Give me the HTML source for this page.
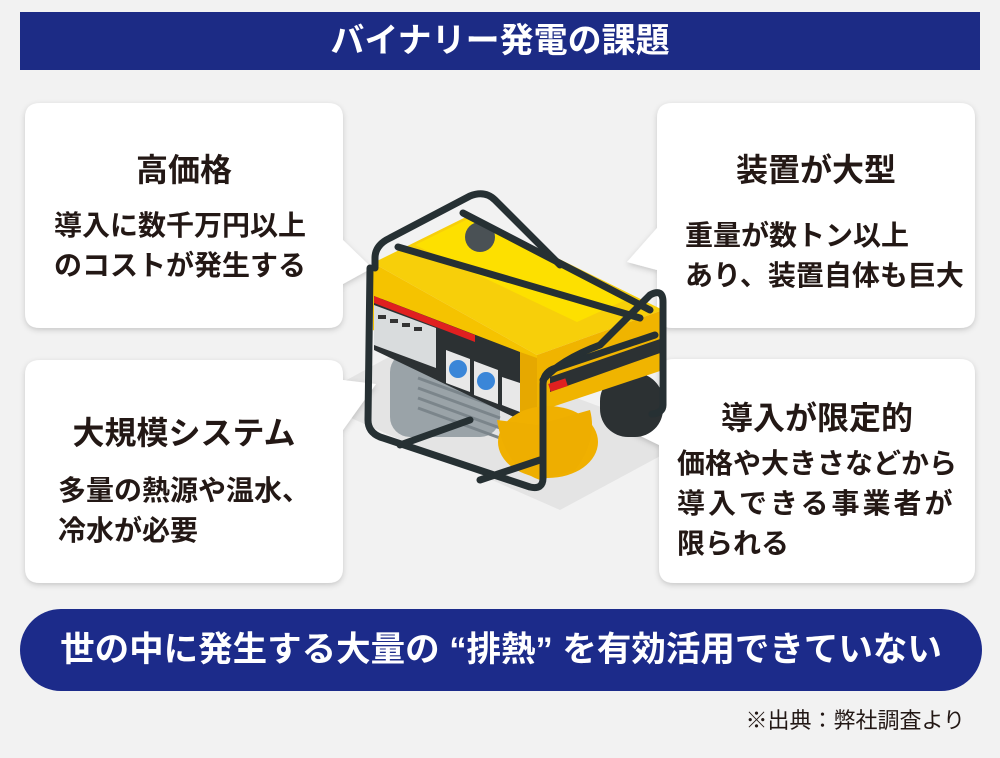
<!DOCTYPE html>
<html><head><meta charset="utf-8"><style>
*{margin:0;padding:0;box-sizing:border-box}
body{width:1000px;height:758px;background:#f2f2f2;position:relative;overflow:hidden;font-family:"Liberation Sans","Noto Sans CJK JP",sans-serif;color:#231815}
.hdr{position:absolute;left:20px;top:12px;width:960px;height:58px;background:#1c2b85;color:#fff;font-size:34px;font-weight:bold;text-align:center;line-height:58px}
.t{position:absolute;font-size:32px;font-weight:bold;white-space:nowrap}
.b{position:absolute;font-size:28px;line-height:40px;white-space:nowrap;font-weight:bold}
.ban{position:absolute;left:20px;top:609px;width:962px;height:82px;border-radius:41px;background:#1c2b8a;color:#fff;font-size:34.5px;font-weight:bold;text-align:center;line-height:82px}
.note{position:absolute;right:35px;top:703px;font-size:22px}
</style></head><body>
<div class="hdr">バイナリー発電の課題</div>
<svg width="1000" height="758" style="position:absolute;left:0;top:0">
<defs><filter id="s" x="-10%" y="-10%" width="120%" height="120%"><feDropShadow dx="0" dy="2" stdDeviation="3" flood-color="#000" flood-opacity="0.18"/></filter></defs>
<polygon points="310,400 420,340 690,440 560,510" fill="#e4e4e4"/>
<g filter="url(#s)" fill="#fff">
<path d="M40,103 H328 Q343,103 343,118 V240 L372,268 L343,284 V313 Q343,328 328,328 H40 Q25,328 25,313 V118 Q25,103 40,103Z"/>
<path d="M672,103 H960 Q975,103 975,118 V313 Q975,328 960,328 H672 Q657,328 657,313 V270 L627,262 L657,228 V118 Q657,103 672,103Z"/>
<path d="M40,360 H328 Q343,360 343,375 V380 L376,384 L343,430 V568 Q343,583 328,583 H40 Q25,583 25,568 V375 Q25,360 40,360Z"/>
<path d="M674,359 H960 Q975,359 975,374 V568 Q975,583 960,583 H674 Q659,583 659,568 V445 L628,430 L659,417 V374 Q659,359 674,359Z"/>
</g>
<g stroke-linejoin="round">
<rect x="390" y="352" width="110" height="85" rx="20" fill="#9aa3a8"/>
<g stroke="#7b858b" stroke-width="3"><line x1="418" y1="378" x2="500" y2="408"/><line x1="418" y1="388" x2="500" y2="418"/><line x1="418" y1="398" x2="500" y2="428"/><line x1="418" y1="408" x2="500" y2="438"/></g>
<rect x="600" y="373" width="63" height="64" rx="28" fill="#2c3133"/>
<polygon points="373,263 470,215 663,310 537,355" fill="#f7cf0a"/>
<polygon points="415,245 470,218 630,298 577,322" fill="#fde000"/>
<polygon points="373,263 537,355 537,405 373,330" fill="#f5c300"/>
<polygon points="537,355 663,310 663,370 537,412" fill="#f0b400"/>
<polygon points="550,377 663,338 663,352 550,392" fill="#2c3133"/>
<rect x="549" y="381" width="18" height="8" fill="#e02020" transform="rotate(-18 558 385)"/>
<polygon points="374,296 520,352 520,420 374,350" fill="#2c3133"/>
<polygon points="374,305 436,328 436,368 374,345" fill="#d9dcdd"/>
<polygon points="374,296 475,335 475,342 374,303" fill="#e02020"/>
<g fill="#333"><rect x="378" y="315" width="8" height="4"/><rect x="390" y="319" width="8" height="4"/><rect x="402" y="323" width="8" height="4"/><rect x="414" y="327" width="8" height="4"/></g>
<polygon points="446,350 470,359 470,392 446,383" fill="#e8e8e8"/>
<polygon points="474,361 498,370 498,404 474,395" fill="#e8e8e8"/>
<circle cx="458" cy="369" r="9" fill="#3a86d8"/>
<circle cx="486" cy="381" r="9" fill="#3a86d8"/>
<polygon points="502,377 520,383 520,412 502,405" fill="#e8e8e8"/>
<polygon points="520,352 537,358 537,425 520,420" fill="#e6a800"/>
<ellipse cx="548" cy="442" rx="50" ry="36" fill="#f0b000"/>
<path d="M497,420 L537,425 L590,410 Q598,440 575,470 L540,480 Q505,468 497,420Z" fill="#eeae00"/>
<circle cx="480" cy="237" r="15" fill="#4a5155"/>
<g fill="none" stroke="#263033" stroke-width="7" stroke-linecap="round">
<path d="M375,268 L375,258 Q375,245 390,238 L470,196 Q485,190 495,200 L560,265"/>
<path d="M398,247 L640,318"/>
<path d="M463,213 L650,310"/>
<path d="M370,268 L368,420 Q368,432 380,437 L530,487 Q543,490 543,478 L543,385 Q543,372 556,368 L655,335"/>
<path d="M543,380 Q560,360 600,345 L650,295 Q663,288 663,302 L663,405 Q663,413 652,414"/>
<path d="M400,445 L470,420 M480,480 L540,460"/>
</g>
</g>
</svg>
<div class="t" style="left:25px;width:318px;text-align:center;top:145px">高価格</div>
<div class="b" style="left:54px;top:206px">導入に数千万円以上<br>のコストが発生する</div>
<div class="t" style="left:657px;width:318px;text-align:center;top:145px">装置が大型</div>
<div class="b" style="left:685px;top:216px">重量が数トン以上<br>あり、装置自体も巨大</div>
<div class="t" style="left:25px;width:318px;text-align:center;top:408px">大規模システム</div>
<div class="b" style="left:58px;top:471px">多量の熱源や温水、<br>冷水が必要</div>
<div class="t" style="left:659px;width:316px;text-align:center;top:393px">導入が限定的</div>
<div class="b" style="left:677px;top:444px">価格や大きさなどから<br><span style="letter-spacing:3px">導入できる事業者が</span><br>限られる</div>
<div class="ban">世の中に発生する大量の “排熱” を有効活用できていない</div>
<div class="note">※出典：弊社調査より</div>
</body></html>
